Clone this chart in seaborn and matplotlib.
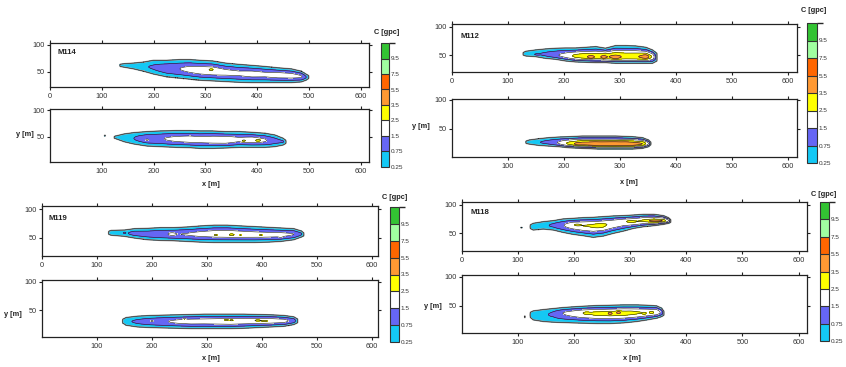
import numpy as np
import matplotlib
matplotlib.use("Agg")
import matplotlib as mpl
import matplotlib.pyplot as plt
from matplotlib.colors import ListedColormap, BoundaryNorm
import seaborn as sns

sns.set_theme(style="ticks")
plt.rcParams['font.family'] = ['Liberation Sans', 'DejaVu Sans']

# ---------------- data ----------------
levels = [0.25, 0.75, 1.5, 2.5, 3.5, 5.5, 7.5, 9.5, 11.5]
level_labels = ["0.25", "0.75", "1.5", "2.5", "3.5", "5.5", "7.5", "9.5"]
band_colors = ["#14c8f4", "#6666f4", "#ffffff", "#ffff00",
               "#ff9933", "#ff6600", "#a0ffa0", "#33c333"]

# M114 upper
m114a_x = [125, 143, 162, 181, 200, 225, 251, 270, 289, 314, 339, 365, 390, 415, 440, 466, 485, 494, 502]
m114a_top = [62.5, 64.9, 66.1, 68, 71.3, 71.3, 72.6, 72.6, 71.3, 70, 66, 63.6, 61.7, 59.7, 57.2, 55.2, 50.8, 45.6, 41]
m114a_bot = [61.5, 58.5, 55.2, 50.8, 45.6, 40.5, 37.9, 36, 34.1, 32.8, 31.5, 30.2, 29.6, 29.6, 29.6, 29.6, 30.9, 34, 39]
m114a_peak = [0, 0.45, 0.55, 0.65, 0.85, 1.25, 1.5, 1.8, 2.0, 2.1, 1.8, 1.7, 1.9, 1.75, 1.95, 1.9, 1.6, 0.8, 0]
m114a_spots = [(311, 54, 0.9, 5, 2)]

# M114 lower
m114b_x = [119, 127, 143, 162, 187, 213, 244, 270, 289, 314, 339, 365, 390, 415, 434, 450, 458]
m114b_top = [49, 51.3, 55.1, 57.6, 59.5, 60.7, 61.4, 61.4, 60.7, 60.7, 59.5, 59.5, 58.2, 56.4, 53.2, 47, 41]
m114b_bot = [48, 46.4, 40.7, 36.4, 32.6, 31.4, 30.1, 29.5, 28.2, 28.2, 28.9, 30.1, 30.1, 30.1, 31.4, 34.5, 39]
m114b_peak = [0, 0.4, 0.6, 0.75, 1.3, 1.4, 1.8, 2.0, 1.9, 2.1, 2.2, 1.7, 2.0, 1.6, 1.0, 0.8, 0]
m114b_spots = [(374, 42.5, 1.1, 5, 2), (402, 43, 1.3, 6, 2), (106, 52, 0.35, 1.5, 1.5), (187, 44, 0.4, 4, 2)]

# M112 upper
m112a_x = [122, 132, 149, 167, 185, 203, 221, 239, 257, 274, 292, 310, 328, 346, 358, 367]
m112a_top = [52, 56.6, 58.9, 60.7, 61.9, 62.4, 62.4, 63.6, 64.8, 62, 66.6, 66.6, 66, 63.6, 58.9, 52]
m112a_bot = [51.5, 48.3, 47.2, 44.2, 42.5, 39.5, 37.8, 37.2, 36.6, 36.6, 35.4, 35.4, 35.4, 35.4, 35.4, 40]
m112a_mid = [52, 52, 52, 51, 50, 49, 48, 47.5, 47, 47, 47, 47, 47, 47, 47, 46]
m112a_peak = [0, 0.5, 0.65, 0.9, 1.3, 1.9, 2.8, 3.3, 3.3, 3.4, 3.6, 3.3, 3.4, 3.7, 2.2, 0]
m112a_spots = [(248, 46, 1.2, 5, 2.5), (271, 46, 1.0, 4, 2.5), (292, 46, 1.3, 6, 2.5),
               (346, 47, 1.2, 6, 2.5), (152, 51, 0.5, 4, 1)]

# M112 lower
m112b_x = [126, 138, 155, 173, 191, 209, 233, 262, 292, 322, 340, 351, 356]
m112b_top = [27, 31, 33.2, 35, 36.1, 36.7, 37.8, 37.8, 37.8, 36.7, 35, 31, 26]
m112b_bot = [26.5, 24, 21.8, 20.6, 19.5, 17.7, 16.6, 15.4, 15.4, 15.4, 16.6, 19.5, 24]
m112b_mid = [27, 27.5, 27, 27, 26, 25, 24.5, 24, 24, 24, 24.5, 25, 25]
m112b_peak = [0, 0.5, 0.7, 1.0, 1.6, 2.8, 4.0, 4.3, 4.4, 4.2, 3.5, 1.5, 0]
m112b_spots = [(225, 24, 0.8, 6, 2), (255, 25, 0.8, 6, 2), (285, 24, 0.8, 6, 2), (310, 25, 0.8, 6, 2)]

# M119 upper
m119a_x = [115, 126, 150, 168, 192, 216, 240, 265, 289, 313, 337, 361, 386, 410, 434, 458, 472, 478]
m119a_top = [59.5, 63.3, 63.9, 66.3, 66.9, 68.1, 68.1, 69.3, 71.1, 72.4, 72.4, 71.1, 69.9, 68.7, 67.5, 66.3, 62.1, 57]
m119a_bot = [58.5, 54.9, 53, 50, 47, 45.8, 45.2, 44, 42.8, 42.2, 42.2, 42.2, 42.2, 42.8, 44, 47, 51.9, 55]
m119a_peak = [0, 0.45, 0.6, 1.0, 1.1, 1.3, 1.45, 1.55, 1.8, 2.0, 2.1, 2.0, 1.9, 1.85, 1.8, 1.5, 0.8, 0]
m119a_spots = [(316, 55, 0.9, 4, 2), (345, 55.5, 1.0, 5, 2), (361, 55, 0.7, 3, 1.5),
               (398, 55, 0.9, 4, 2), (434, 53, 0.8, 3, 1.5), (150, 59, 0.5, 2, 1.2), (236, 57, 0.4, 6, 2.5)]

# M119 lower
m119b_x = [142, 153, 174, 198, 222, 247, 271, 295, 319, 343, 367, 392, 416, 440, 458, 467]
m119b_top = [31.5, 37, 39.4, 40.6, 41.2, 41.8, 42.3, 42.9, 42.9, 42.9, 42.9, 42.3, 41.8, 40.6, 38.2, 33]
m119b_bot = [30.5, 23.5, 20.5, 19.4, 18.8, 18.2, 17.6, 17.6, 17.6, 17.6, 18.2, 19.4, 20.5, 21.7, 24.7, 29]
m119b_peak = [0, 0.6, 0.9, 1.2, 1.4, 1.7, 1.9, 1.9, 2.0, 2.1, 2.0, 2.0, 2.0, 1.8, 1.1, 0]
m119b_spots = [(259, 33.5, 1.0, 3, 1.5), (335, 33, 1.0, 5, 1.5), (345, 32.5, 0.8, 4, 1.5),
               (392, 32, 1.0, 6, 1.5), (405, 31, 1.0, 6, 1.5), (200, 31, 0.5, 3, 2)]

# M118 upper
m118a_x = [116, 127, 145, 163, 180, 198, 216, 234, 252, 270, 288, 306, 324, 342, 359, 368, 373]
m118a_top = [62, 67.6, 70.5, 72.3, 75.3, 76.4, 77.6, 78.2, 79.4, 80.6, 81.2, 82.3, 83.5, 83.5, 81.2, 77.6, 73]
m118a_bot = [61.5, 55.8, 57.6, 55.8, 51.7, 48.2, 45.8, 42.9, 45.2, 50, 54, 58.8, 61.7, 63.5, 65.8, 67.6, 70]
m118a_mid = [61.8, 61.7, 64, 64, 64, 64.7, 63.5, 63.5, 64.7, 67.6, 70.5, 70.5, 72.3, 72.3, 72.3, 72.5, 71.5]
m118a_peak = [0, 0.5, 0.55, 0.9, 1.4, 2.2, 2.5, 2.6, 2.6, 2.3, 2.2, 2.4, 2.6, 3.0, 2.9, 1.5, 0]
m118a_spots = [(205, 65, 0.5, 6, 2), (243, 63, 0.6, 8, 3), (300, 71, 0.5, 8, 2),
               (345, 72, 1.6, 12, 1.5), (106, 60, 0.35, 2, 0.8)]

# M118 lower
m118b_x = [116, 127, 145, 163, 180, 198, 216, 240, 264, 288, 312, 330, 347, 356, 361]
m118b_top = [35.5, 40.7, 43, 44.8, 46.5, 47.7, 48.8, 50, 50.5, 51.1, 51.1, 50.5, 49.4, 45.4, 38]
m118b_bot = [34.5, 25.2, 22.4, 21.2, 20.6, 20, 19.5, 18.9, 18.9, 20, 22.4, 25.2, 28.1, 31, 34]
m118b_mid = [35, 33, 33, 36, 37, 37, 37, 36.5, 36.5, 37, 37.5, 38, 38.5, 38, 36]
m118b_peak = [0, 0.5, 0.6, 0.9, 1.5, 1.9, 2.4, 2.7, 2.9, 2.9, 2.6, 2.4, 2.2, 1.2, 0]
m118b_spots = [(264, 36.5, 1.4, 4, 2), (279, 38, 1.3, 4, 2), (222, 37, 0.5, 5, 2), (238, 36, 0.5, 5, 2),
               (300, 38, 0.5, 6, 2), (338, 38, 0.9, 3, 2), (325, 36, 0.6, 3, 1.5), (112, 30.5, 0.35, 0.8, 2.5)]

# ---------------- figure ----------------
W, H = 846, 367
fig = plt.figure(figsize=(W / 100, H / 100), dpi=100)
fig.patch.set_facecolor("white")

gx = np.arange(0, 621, 1.0)
gy = np.arange(0, 110, 0.4)
GX, GY = np.meshgrid(gx, gy)


def build_field(xs, top, bot, peak, spots, mid=None):
    p = np.interp(gx, xs, peak, left=0, right=0)
    t = np.interp(gx, xs, top)
    b = np.interp(gx, xs, bot)
    m = (t + b) / 2 if mid is None else np.interp(gx, xs, mid)
    k = np.sqrt(np.log(np.maximum(4 * p, 1.02)))
    st = np.maximum(t - m, 0.3) / k
    sb = np.maximum(m - b, 0.3) / k
    s = np.where(GY > m[None, :], st[None, :], sb[None, :])
    C = p[None, :] * np.exp(-((GY - m[None, :]) / s) ** 2)
    for sx, sy, a, rx, ry in spots:
        C = C + a * np.exp(-((GX - sx) / rx) ** 2 - ((GY - sy) / ry) ** 2)
    return C


def px_rect(l, t, r, b):
    return [l / W, 1 - b / H, (r - l) / W, (b - t) / H]


def make_ax(rect, xlim, ylim, xticks):
    ax = fig.add_axes(px_rect(*rect))
    ax.set_xlim(xlim)
    ax.set_ylim(ylim)
    ax.set_xticks(xticks)
    ax.set_xticklabels([str(v) for v in xticks])
    ax.set_yticks([50, 100])
    ax.set_yticklabels(["50", "100"])
    ax.tick_params(direction="out", length=2.5, width=0.8, color="#222",
                   labelsize=5.3, labelcolor="#333", pad=1.5,
                   top=True, right=True, labeltop=False, labelright=False)
    for sp in ax.spines.values():
        sp.set_linewidth(0.9)
        sp.set_color("#222")
    return ax


def draw(ax, C):
    ax.contourf(GX, GY, C, levels=levels, colors=band_colors)
    ax.contour(GX, GY, C, levels=[0.25], colors="#a8a8a8", linewidths=1.1)
    ax.contour(GX, GY, C, levels=levels[:-1], colors="k", linewidths=0.42)


def colorbar(rect, title_xy):
    cmap = ListedColormap(band_colors)
    norm = BoundaryNorm(levels, cmap.N)
    cax = fig.add_axes(px_rect(*rect))
    cb = fig.colorbar(mpl.cm.ScalarMappable(norm=norm, cmap=cmap), cax=cax,
                      boundaries=levels, spacing="uniform", drawedges=True,
                      ticks=levels[:-1])
    cb.ax.set_yticklabels(level_labels)
    cb.ax.tick_params(length=0, labelsize=4.6, labelcolor="#333", pad=1)
    cb.outline.set_linewidth(0.8)
    cb.outline.set_edgecolor("#333")
    cb.dividers.set_linewidth(0.8)
    cb.dividers.set_color("#333")
    fig.text(title_xy[0] / W, 1 - title_xy[1] / H, "C [gpc]", fontsize=5.3,
             fontweight="bold", ha="center", va="center", color="#222")


def group(name, up_rect, lo_rect, xlim, up_ylim, lo_ylim, up_data, lo_data,
          cb_rect, cb_title, xlab, ylab, name_xy):
    axu = make_ax(up_rect, xlim, up_ylim, [0, 100, 200, 300, 400, 500, 600])
    draw(axu, build_field(*up_data[:5], **up_data[5]))
    axl = make_ax(lo_rect, xlim, lo_ylim, [100, 200, 300, 400, 500, 600])
    draw(axl, build_field(*lo_data[:5], **lo_data[5]))
    fig.text(name_xy[0] / W, 1 - name_xy[1] / H, name, fontsize=5.6,
             fontweight="bold", ha="left", va="center", color="#222")
    fig.text(xlab[0] / W, 1 - xlab[1] / H, "x [m]", fontsize=5.3,
             fontweight="bold", ha="center", va="center", color="#222")
    fig.text(ylab[0] / W, 1 - ylab[1] / H, "y [m]", fontsize=5.3,
             fontweight="bold", ha="center", va="center", color="#222")
    colorbar(cb_rect, cb_title)


group("M114", (50, 43, 369, 87), (50, 109, 369, 162), (0, 615.8), (21.3, 103.7), (2.6, 101.9),
      (m114a_x, m114a_top, m114a_bot, m114a_peak, m114a_spots, {}),
      (m114b_x, m114b_top, m114b_bot, m114b_peak, m114b_spots, {}),
      (381, 43, 389, 167), (387, 32), (211, 184), (25, 135), (57, 52.5))

group("M112", (452, 24, 797, 72), (452, 99, 797, 157), (0, 616), (20, 104.8), (1.7, 101.7),
      (m112a_x, m112a_top, m112a_bot, m112a_peak, m112a_spots, {"mid": m112a_mid}),
      (m112b_x, m112b_top, m112b_bot, m112b_peak, m112b_spots, {"mid": m112b_mid}),
      (807, 23, 817, 163), (814, 11), (629, 183), (421, 126), (460, 36))

group("M119", (42, 206, 378, 256), (42, 280, 378, 337), (0, 611), (18.5, 106), (2.8, 103),
      (m119a_x, m119a_top, m119a_bot, m119a_peak, m119a_spots, {}),
      (m119b_x, m119b_top, m119b_bot, m119b_peak, m119b_spots, {}),
      (390, 207, 399, 342), (395, 197), (211, 358), (13, 315), (48, 218))

group("M118", (462, 202, 807, 251), (462, 275, 807, 333), (0, 615), (18.7, 105.3), (2.4, 103),
      (m118a_x, m118a_top, m118a_bot, m118a_peak, m118a_spots, {"mid": m118a_mid}),
      (m118b_x, m118b_top, m118b_bot, m118b_peak, m118b_spots, {"mid": m118b_mid}),
      (820, 202, 829, 341), (824, 195), (632, 358), (433, 306), (470, 213))

fig.savefig("out.png", dpi=100, facecolor="white")
